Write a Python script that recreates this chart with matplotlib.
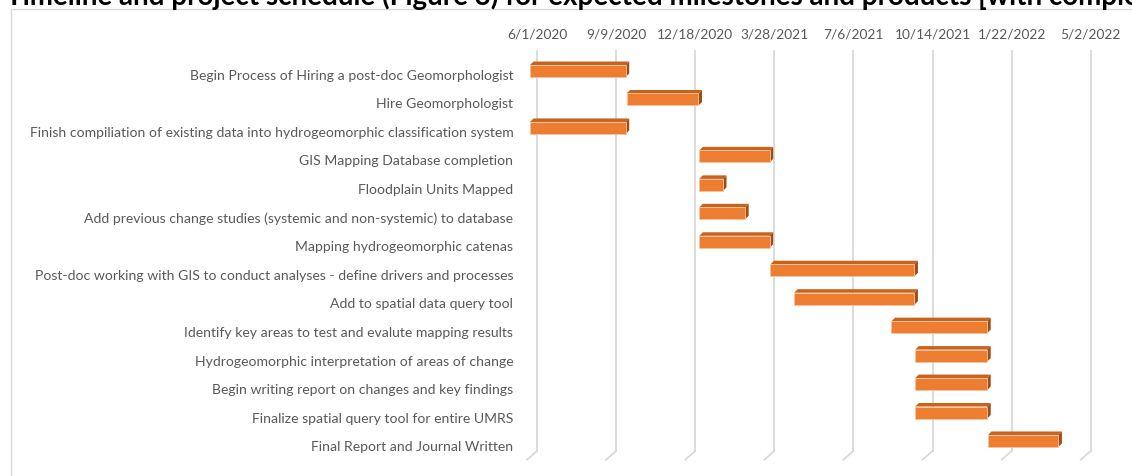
import matplotlib
matplotlib.use("Agg")
import matplotlib.pyplot as plt
import matplotlib.dates as mdates
from matplotlib.patches import Polygon, Rectangle
from matplotlib.lines import Line2D
from matplotlib.transforms import ScaledTranslation, blended_transform_factory
import datetime as dt
import numpy as np

# ---------------- data ----------------
tasks = [
    "Begin Process of Hiring a post-doc Geomorphologist",
    "Hire Geomorphologist",
    "Finish compiliation of existing data into hydrogeomorphic classification system",
    "GIS Mapping Database completion",
    "Floodplain Units Mapped",
    "Add previous change studies (systemic and non-systemic) to database",
    "Mapping hydrogeomorphic catenas",
    "Post-doc working with GIS to conduct analyses - define drivers and processes",
    "Add to spatial data query tool",
    "Identify key areas to test and evalute mapping results",
    "Hydrogeomorphic interpretation of areas of change",
    "Begin writing report on changes and key findings",
    "Finalize spatial query tool for entire UMRS",
    "Final Report and Journal Written",
]
start_dates = [
    "6/1/2020", "10/1/2020", "6/1/2020", "1/1/2021", "1/1/2021", "1/1/2021",
    "1/1/2021", "4/1/2021", "5/1/2021", "9/1/2021", "10/1/2021", "10/1/2021",
    "10/1/2021", "1/1/2022",
]
end_dates = [
    "9/30/2020", "12/31/2020", "9/30/2020", "3/31/2021", "1/31/2021", "2/28/2021",
    "3/31/2021", "9/30/2021", "9/30/2021", "12/31/2021", "12/31/2021", "12/31/2021",
    "12/31/2021", "3/31/2022",
]
tick_labels = ["6/1/2020", "9/9/2020", "12/18/2020", "3/28/2021",
               "7/6/2021", "10/14/2021", "1/22/2022", "5/2/2022"]
title = ("Timeline and project schedule (Figure 3) for expected milestones "
         "and products [with completion dates]")

# ---------------- style ----------------
W, H, DPI = 1132, 477, 100
FRONT = "#ED7D31"
TOP = "#C9621C"
SIDE = "#A24C12"
EDGE = "#F6C4A0"
GRID = "#D9D9D9"
TXT = "#595959"

plt.rcParams["font.family"] = ["Lato", "DejaVu Sans"]


def to_num(s):
    return mdates.date2num(dt.datetime.strptime(s, "%m/%d/%Y"))


starts = np.array([to_num(s) for s in start_dates])
ends = np.array([to_num(s) for s in end_dates])
ticks = np.array([to_num(s) for s in tick_labels])
n = len(tasks)
ypos = np.arange(n)

fig = plt.figure(figsize=(W / DPI, H / DPI), dpi=DPI)
fig.patch.set_facecolor("white")

# axes = front plane of the 3D plot (pixel layout)
ax_l, ax_r, ax_t, ax_b = 530, 1083.7, 57.8, 456.2
ax = fig.add_axes([ax_l / W, (H - ax_b) / H, (ax_r - ax_l) / W, (ax_b - ax_t) / H])
ax.set_facecolor("none")
ax.set_xlim(ticks[0], ticks[-1])
ax.set_ylim(n - 0.5, -0.5)
for sp in ax.spines.values():
    sp.set_visible(False)

days_per_px = (ticks[-1] - ticks[0]) / (ax_r - ax_l)
rows_per_px = n / (ax_b - ax_t)

# back-wall gridlines with floor slant (3D look)
back_dx = 7
grid_top, grid_back_bottom, grid_floor = 52, 452, 460.7
floor_dx = -3
tr = blended_transform_factory(ax.transData, fig.transFigure)
for t in ticks:
    xb = t + back_dx * days_per_px
    xf = t + floor_dx * days_per_px
    fig.add_artist(Line2D([xb, xb], [(H - grid_top) / H, (H - grid_back_bottom) / H],
                          transform=tr, color=GRID, lw=1.3, zorder=0))
    fig.add_artist(Line2D([xb, xf], [(H - grid_back_bottom) / H, (H - grid_floor) / H],
                          transform=tr, color=GRID, lw=1.3, zorder=0))

# bars (front faces)
bar_h = 12 * rows_per_px
ax.barh(ypos, ends - starts, left=starts, height=bar_h, color=FRONT,
        edgecolor=EDGE, linewidth=0.6, zorder=3)

# 3D faces
ddx = 3.5 * days_per_px
ddy = 3.5 * rows_per_px
for y, s, e in zip(ypos, starts, ends):
    top = y - bar_h / 2
    bot = y + bar_h / 2
    ax.add_patch(Polygon([(s, top), (e, top), (e + ddx, top - ddy), (s + ddx, top - ddy)],
                         closed=True, facecolor=TOP, edgecolor="none", zorder=2))
    ax.add_patch(Polygon([(e, top), (e, bot), (e + ddx, bot - ddy), (e + ddx, top - ddy)],
                         closed=True, facecolor=SIDE, edgecolor="none", zorder=2))

# axis labels
ax.xaxis.tick_top()
ax.set_xticks(ticks)
ax.set_xticklabels(tick_labels, fontsize=9.9, color=TXT)
ax.tick_params(axis="x", length=0, pad=12.5)
for lab in ax.get_xticklabels():
    lab.set_transform(lab.get_transform() + ScaledTranslation(back_dx / DPI, 0, fig.dpi_scale_trans))

ax.set_yticks(ypos)
ax.set_yticklabels(tasks, fontsize=10.1, color=TXT)
ax.tick_params(axis="y", length=0, pad=12)
for i, lab in enumerate(ax.get_yticklabels()):
    dy_px = 2.5 + 2.0 * i / (n - 1)
    lab.set_transform(lab.get_transform() + ScaledTranslation(0, -dy_px / DPI, fig.dpi_scale_trans))

# chart border
fig.add_artist(Rectangle((10.5 / W, -0.2), 1.5, (H - 9.5) / H + 0.2, transform=fig.transFigure,
                         fill=False, edgecolor=GRID, lw=1.0, zorder=0))

# title (cut off at the top, as in the reference)
fig.text(6 / W, (H - 5.5) / H, title, fontsize=20, fontweight="bold", color="black",
         va="baseline", ha="left")

fig.savefig("out.png", dpi=DPI)
